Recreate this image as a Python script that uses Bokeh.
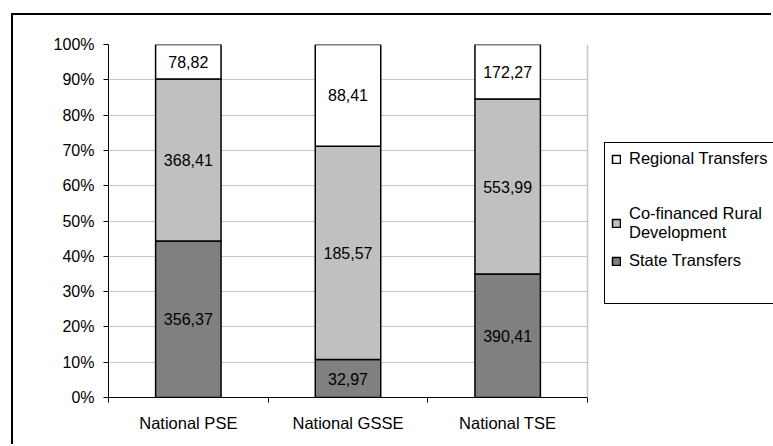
import numpy as np
from bokeh.plotting import figure
from bokeh.models import (ColumnDataSource, FixedTicker, NumeralTickFormatter, Legend,
                          LegendItem, Range1d, Span)
from bokeh.core.properties import value
from bokeh.embed import file_html
from bokeh.resources import INLINE

# ---- data ----
categories = ["National PSE", "National GSSE", "National TSE"]
state_transfers = [356.37, 32.97, 390.41]
cofinanced_rural = [368.41, 185.57, 553.99]
regional_transfers = [78.82, 88.41, 172.27]
series_names = ["State Transfers", "Co-financed Rural\nDevelopment", "Regional Transfers"]
series_colors = ["#808080", "#c0c0c0", "#ffffff"]
y_ticks = [0.0, 0.1, 0.2, 0.3, 0.4, 0.5, 0.6, 0.7, 0.8, 0.9, 1.0]

FONT = "Liberation Sans"

vals = np.array([state_transfers, cofinanced_rural, regional_transfers])
shares = vals / vals.sum(axis=0)
n = len(categories)
xs = np.arange(n) + 0.5
keys = ["s0", "s1", "s2"]
src = ColumnDataSource(dict(x=xs, **{k: shares[i] for i, k in enumerate(keys)}))

# layout: canvas 760x431, plot area 479 px wide, frame extends to the canvas right edge
W, H = 760, 431
LEFT, TOP, BOTTOM = 95, 29, 49
PLOT_PX = 479
FRAME_PX = W - LEFT
p = figure(width=W, height=H, x_range=Range1d(0, n * FRAME_PX / PLOT_PX), y_range=Range1d(0, 1),
           output_backend="svg", toolbar_location=None,
           min_border_left=LEFT, min_border_top=TOP, min_border_right=0, min_border_bottom=BOTTOM)
p.styles = {"margin-left": "11px", "margin-top": "13px",
            "border-left": "2px solid black", "border-top": "2px solid black"}
p.background_fill_color = "white"
p.border_fill_color = "white"
p.outline_line_color = None

rs = p.vbar_stack(keys, x="x", width=0.41, source=src, fill_color=series_colors,
                  line_color="black", line_width=1.5)

# value labels
lx, ly, lt = [], [], []
bottom = np.zeros(n)
for k in range(len(keys)):
    mid = bottom + shares[k] / 2
    for j in range(n):
        lx.append(xs[j]); ly.append(mid[j])
        lt.append(f"{vals[k][j]:.2f}".replace(".", ","))
    bottom = bottom + shares[k]
p.text(x=lx, y=ly, text=lt, text_align="center", text_baseline="middle",
       text_font=value(FONT), text_font_size="16px", text_color="black")

# grid and plot-area right border
p.xgrid.visible = False
p.ygrid.grid_line_color = "#c8c8c8"
p.ygrid.ticker = FixedTicker(ticks=y_ticks)
p.ygrid.cross_bounds = (0, n)
p.add_layout(Span(location=n, dimension="height", line_color="#c8c8c8", line_width=1.5))

xa = p.xaxis[0]
xa.bounds = (0, n)
xa.ticker = FixedTicker(ticks=list(xs), minor_ticks=list(range(n + 1)))
xa.major_label_overrides = {float(x): c for x, c in zip(xs, categories)}
xa.major_tick_line_color = None
xa.minor_tick_line_color = "black"
xa.minor_tick_in = 0
xa.minor_tick_out = 5
xa.major_label_standoff = 10
xa.axis_line_color = "black"
xa.major_label_text_font_size = "16.5px"

ya = p.yaxis[0]
ya.ticker = FixedTicker(ticks=y_ticks)
ya.formatter = NumeralTickFormatter(format="0%")
ya.minor_tick_line_color = None
ya.major_tick_in = 0
ya.major_tick_out = 5
ya.major_label_standoff = 9
ya.axis_line_color = "black"
ya.major_label_text_font_size = "16px"

for ax in (xa, ya):
    ax.major_label_text_font = FONT
    ax.major_label_text_color = "black"

# legend (spacer entries reproduce the uneven vertical layout of the original)
spacer = p.vbar(x=[], top=[], width=0.1, fill_alpha=0, line_alpha=0)
items = [LegendItem(label=series_names[2], renderers=[rs[2]]),
         LegendItem(label=" ", renderers=[spacer]),
         LegendItem(label=series_names[1], renderers=[rs[1]]),
         LegendItem(label=series_names[0], renderers=[rs[0]]),
         LegendItem(label=" ", renderers=[spacer])]
leg = Legend(items=items, location=(496, 93), padding=6, margin=0, spacing=9,
             glyph_width=10, glyph_height=10, label_standoff=8, label_height=18,
             label_width=150,
             label_text_font=FONT, label_text_font_size="16.5px", label_text_line_height=1.05,
             label_text_color="black",
             border_line_color="black", border_line_width=1, border_line_alpha=1,
             background_fill_color="white", background_fill_alpha=1)
p.add_layout(leg)

open("out.html", "w").write(file_html(p, INLINE))
